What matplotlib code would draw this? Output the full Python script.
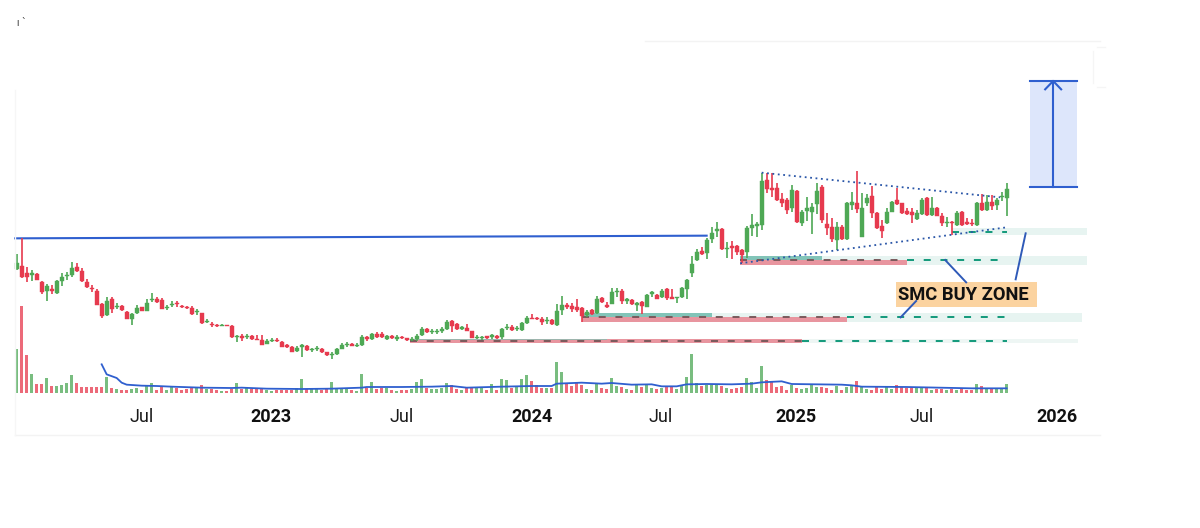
import matplotlib
matplotlib.use("Agg")
import matplotlib.pyplot as plt
from matplotlib.lines import Line2D
from matplotlib.patches import Rectangle

plt.rcParams['font.family'] = ['Roboto', 'DejaVu Sans']

# Weekly OHLC, index 0 = first candle on the chart
opens = [371,381,359,353,356,334,306,311,299,336,351,354,379,366,333,316,307,266,234,283,258,262,242,223,239,257,247,278,283,279,
255,265,269,262,259,256,242,239,214,207,204,202,203,202,168,172,168,171,163,160,148,157,159,154,143,139,125,139,140,128,
131,131,122,113,117,133,144,147,142,145,167,161,177,177,162,172,161,167,164,159,161,174,192,184,184,186,192,217,207,193,
195,185,165,165,170,168,172,167,196,199,192,189,210,226,225,223,215,218,203,249,264,262,259,255,234,249,239,284,264,267,
304,307,277,279,265,272,259,296,295,287,311,288,284,287,311,359,399,427,421,461,487,491,431,441,441,429,424,496,502,504,
639,614,614,581,579,554,607,509,546,544,567,617,506,499,459,499,461,564,571,469,569,592,541,501,509,544,579,569,547,544,
523,536,584,534,556,531,511,514,504,544,512,510,503,569,549,574,564,587,586]
highs = [417,464,377,369,361,336,327,323,339,361,364,392,391,374,341,324,311,269,289,287,271,265,247,241,264,259,281,299,287,284,
264,275,277,265,262,261,251,240,221,212,206,207,204,203,174,176,176,173,173,174,161,166,165,156,148,142,141,147,143,136,
140,134,124,122,135,149,154,150,149,173,170,181,183,184,175,174,173,170,166,167,178,199,195,192,192,197,219,220,209,201,
207,186,173,171,172,177,174,194,207,203,201,213,231,237,229,227,229,223,267,291,271,269,281,259,249,253,291,289,274,314,
314,311,284,282,274,276,297,307,298,311,315,311,287,319,341,411,431,437,464,499,513,494,454,456,444,431,501,537,514,661,
661,659,631,599,584,624,609,549,589,569,629,624,539,524,514,504,574,602,667,601,597,621,544,519,556,576,614,571,554,554,
549,584,587,587,559,541,527,517,546,547,524,521,574,596,594,594,584,602,631]
lows = [369,344,332,337,338,297,277,297,298,321,339,349,363,333,316,304,263,225,232,239,251,247,221,204,237,245,245,273,269,251,
249,257,257,254,252,234,234,206,209,197,199,200,200,166,154,157,161,160,159,144,146,154,152,138,134,123,122,109,127,124,
127,120,111,102,115,131,138,140,139,141,157,159,166,164,159,162,157,161,157,157,157,172,179,178,178,181,189,184,190,188,
185,164,161,160,162,163,163,163,188,186,185,187,208,222,219,204,206,205,201,233,251,244,244,214,227,235,238,271,255,266,
289,267,266,265,247,237,258,287,281,285,279,281,269,285,283,347,395,414,401,449,469,429,404,402,414,389,404,471,467,489,
599,587,576,559,536,544,511,502,516,477,537,509,474,454,429,459,459,549,539,467,561,524,491,464,507,542,564,537,534,509,
519,534,531,532,530,502,499,473,502,501,504,501,501,547,547,549,549,577,531]
closes = [391,349,347,359,339,304,322,306,337,349,354,375,365,336,319,313,264,231,276,253,261,250,222,237,256,247,269,281,272,252,
258,268,266,258,254,237,245,209,217,204,202,204,201,168,171,164,171,161,160,145,157,160,155,139,139,124,136,143,129,131,
134,122,113,116,132,145,147,142,145,168,161,176,168,167,172,164,169,165,159,161,171,191,182,187,187,193,214,201,192,197,
186,165,168,168,165,173,166,191,199,188,196,209,224,223,222,214,219,206,247,263,259,251,249,232,244,238,281,273,259,304,
307,275,281,267,269,262,294,302,283,306,284,283,287,315,338,386,423,417,459,481,491,431,434,434,424,414,494,504,506,636,
611,610,579,571,549,609,514,544,556,559,607,519,496,461,499,461,569,574,552,556,584,539,494,487,544,574,567,539,537,534,
539,579,534,556,532,509,514,511,539,504,507,506,569,549,574,562,579,591,611]
volumes = [133,261,115,56,27,27,44,21,21,23,29,53,29,18,17,17,17,18,48,15,11,8,8,11,15,10,25,31,10,20,
8,21,15,9,11,16,14,24,12,11,8,7,6,11,31,13,15,13,13,15,10,7,8,8,8,10,15,41,13,11,
11,8,11,34,13,13,13,9,7,58,15,32,11,15,16,8,7,8,8,11,34,41,15,13,13,16,30,23,11,10,
15,19,15,15,8,26,10,43,39,15,18,41,55,36,23,16,15,14,93,64,28,20,30,23,13,8,31,15,11,44,
21,17,11,8,23,18,24,15,11,16,21,19,12,23,47,116,30,20,23,23,23,20,16,13,15,18,46,33,15,82,
40,32,18,22,10,25,15,11,15,23,18,18,16,10,22,10,19,21,35,20,13,9,18,11,17,13,24,18,14,14,
18,19,15,10,12,12,9,13,10,13,9,8,27,20,11,16,12,12,26]

ma_week = [17,18,20,21,22,25,28,31,37,43,45,50,57,63,69,70,77,83,87,90,97,103,107,108,113,117,119,123,127,129,132,134,138,143,147,149,153,154,155,165,167,169,178,191,198]
ma_vol = [86,56,45,31,25,22,21,19,16,15,16,13,12,13,16,18,18,19,21,16,19,21,21,28,31,28,30,25,26,20,20,26,27,26,28,32,35,31,27,25,23,19,18,14,14]

tick_weeks = [24.9,50.9,77,103,128.7,155.8,181,208]
tick_labels = ['Jul','2023','Jul','2024','Jul','2025','Jul','2026']
year_labels = ['2023','2024','2025','2026']

GREEN, RED, BLUE = '#4ea855', '#e63a4e', '#2f5fcf'
VGREEN, VRED = '#79bd80', '#ec6a79'
TEAL, PALE, SALMON = '#82c4b8', '#e7f4f1', '#e8959f'
DASH = '#12997a'

fig = plt.figure(figsize=(12, 5.28), dpi=100)
ax = fig.add_axes([0, 135/528, 1, 393/528])
ax.set_xlim(-3.334, 236.67)
ax.set_ylim(0, 1179)
for s in ax.spines.values():
    s.set_visible(False)
ax.set_yticks([])
ax.set_xticks(tick_weeks)
ax.set_xticklabels(tick_labels, fontsize=13, color='#1a1a1a')
for t in ax.get_xticklabels():
    if t.get_text() in year_labels:
        t.set_fontweight('bold')
        t.set_color('#111111')
ax.tick_params(axis='x', length=0, pad=11)

# Zones
def zone(i0, i1, lo, hi, color, z=1):
    ax.add_patch(Rectangle((i0, lo), i1 - i0, hi - lo, color=color, lw=0, zorder=z))

zone(187, 214, 474, 494, PALE)
zone(144.7, 214, 385, 411, PALE)
zone(113, 213.1, 212, 240, PALE)
zone(78.7, 212.3, 151, 163, '#eef6f4')
zone(144.7, 178, 385, 399, SALMON, 2)
zone(144.7, 161, 399, 411, TEAL, 2)
zone(113, 166, 213, 227, SALMON, 2)
zone(113, 139, 228, 240, TEAL, 2)
zone(78.7, 157, 151, 161, SALMON, 2)
zone(78.7, 118, 158, 162, '#9db5ad', 2)

dash = dict(lw=1.4, dashes=(3.6, 5.0), zorder=2.5)
ax.plot([187, 198], [484, 484], color=DASH, **dash)
ax.plot([144.7, 178], [398, 398], color='#7a5a5c', **dash)
ax.plot([178, 198], [398, 398], color=DASH, **dash)
ax.plot([113, 166], [228, 228], color='#7a5a5c', **dash)
ax.plot([166, 198], [228, 228], color=DASH, **dash)
ax.plot([78.7, 157], [157, 157], color='#7a5a5c', **dash)
ax.plot([157, 198], [157, 157], color=DASH, **dash)

# Long horizontal level
ax.plot([-0.3, 138], [464, 472], color=BLUE, lw=1.5, zorder=2.8)

# Candles and volume
for i, (o, h, l, c, v) in enumerate(zip(opens, highs, lows, closes, volumes)):
    up = c >= o
    col = GREEN if up else RED
    ax.plot([i, i], [l, h], color=col, lw=1.2, zorder=3, solid_capstyle='butt')
    ax.add_patch(Rectangle((i - 0.42, min(o, c)), 0.84, abs(c - o), facecolor=col, edgecolor=col, lw=0.3, zorder=3.2))
    ax.add_patch(Rectangle((i - 0.33, 0), 0.66, v, facecolor=VGREEN if up else VRED, edgecolor='none', lw=0, zorder=3))

ax.plot(ma_week, ma_vol, color=BLUE, lw=1.3, zorder=4)

# Triangle
ax.plot([149, 196.7], [661, 587], color='#2a56a8', lw=1.3, ls=(0, (1, 2)), zorder=4)
ax.plot([144.7, 198], [389, 497], color='#2a56a8', lw=1.3, ls=(0, (1, 2)), zorder=4)

# Callout
for xs, ys in [([185.7, 189.9], [399, 332]), ([201.8, 199.8], [479, 341]), ([179.9, 176.8], [276, 227])]:
    ax.plot(xs, ys, color='#2f5ab8', lw=1.4, zorder=5)
zone(175.9, 204, 259, 332, '#fbd3a0', 4.5)
ax.text(189.4, 295, 'SMC BUY ZONE', ha='center', va='center', fontsize=13.2, fontweight='bold', color='#111111', zorder=6)

# Target box
zone(202.7, 212, 618, 936, '#dde6fb')
ax.plot([202.7, 212], [936, 936], color=BLUE, lw=1.5, zorder=3)
ax.plot([202.7, 212], [618, 618], color=BLUE, lw=1.5, zorder=3)
ax.plot([207.3, 207.3], [618, 936], color=BLUE, lw=1.5, zorder=3)
ax.plot([205.7, 207.3, 208.9], [911, 936, 911], color=BLUE, lw=1.5, zorder=3)

# Faint page chrome
def hl(x0, x1, y, color='#f3f3f3'):
    fig.add_artist(Line2D([x0/1200, x1/1200], [1 - y/528, 1 - y/528], color=color, lw=1))
hl(645, 1100, 41)
hl(15, 1100, 435)
fig.add_artist(Line2D([15/1200, 15/1200], [1 - 435/528, 1 - 90/528], color='#f6f6f6', lw=1))
hl(1097, 1105, 47, '#f5f5f5')
hl(1097, 1105, 87, '#f5f5f5')
fig.add_artist(Line2D([1093/1200, 1093/1200], [1 - 83/528, 1 - 51/528], color='#f5f5f5', lw=1))
fig.text(17/1200, 1 - 26/528, 'ı ˋ', fontsize=7, color='#333333')

fig.savefig('out.png', dpi=100)
